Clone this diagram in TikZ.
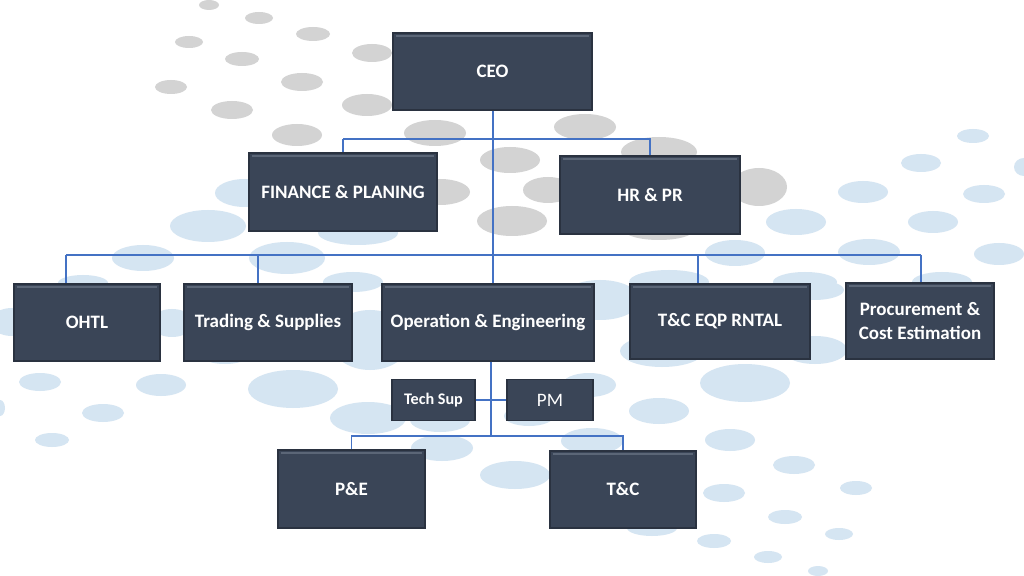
\documentclass[tikz,border=0pt]{standalone}
\usepackage{fontspec}
\setmainfont{Carlito}
\definecolor{boxfill}{HTML}{3A4557}
\definecolor{boxedge}{HTML}{2A3240}
\definecolor{boxhi}{HTML}{5B6677}
\definecolor{conn}{HTML}{4472C4}
\definecolor{dotgray}{HTML}{D3D3D3}
\definecolor{dotblue}{HTML}{D5E5F2}
\tikzset{
  orgbox/.style={draw=boxedge, line width=0.8pt, fill=boxfill, text=white,
    font=\fontsize{13.5}{16.4}\selectfont\bfseries, align=center, inner sep=0pt,
    path picture={\fill[boxhi] ([yshift=-1.2pt,xshift=2pt]path picture bounding box.north west) rectangle ([yshift=-3pt,xshift=-2pt]path picture bounding box.north east);}},
  link/.style={draw=conn, line width=1.3pt},
  gdot/.style={fill=dotgray},
  bdot/.style={fill=dotblue}
}
\begin{document}
\begin{tikzpicture}[x=0.025cm, y=-0.025cm]
\useasboundingbox (0,0) rectangle (1024,576);
\fill[white] (0,0) rectangle (1024,576);
% gray dots
\foreach \cx/\cy/\rx/\ry in {209/5/10/5, 259/18/14/6, 313/34/17/7, 189/42/14/6, 242/59/17/7, 372/53/20/9,
  171/87/16/7, 302/82/21/9, 232/110/21/9, 367/105/25/11, 297/135/25/11, 435/133/31/13,
  440/192/30/13, 510/160/30/13, 512/221/35/15, 585/127/31/13, 659/152/38/15, 759/187/28/19,
  548/190/25/13, 659/230/35/10}
  \fill[gdot] (\cx,\cy) ellipse [x radius=\rx, y radius=\ry];
% blue dots
\foreach \cx/\cy/\rx/\ry in {245/193/30/14, 208/226/38/16, 358/233/40/12, 143/258/31/13, 287/258/38/16,
  83/283/25/8, 353/282/30/10, 973/136/16/7, 921/163/20/9, 1024/167/10/9, 863/192/25/11, 984/194/21/9,
  796/222/30/13, 933/222/25/11, 735/253/30/13, 869/252/31/13, 999/254/25/11, 669/282/40/12,
  805/282/32/10, 942/282/30/10, 12/322/22/14, 172/323/22/14, 40/382/21/9, 161/385/25/11,
  103/413/21/9, 52/440/17/7, 0/408/5/8, 293/389/45/19, 368/418/38/16, 442/448/31/13,
  515/475/35/14, 370/340/40/30, 225/350/30/14, 589/385/27/12, 745/383/45/19, 659/411/30/13,
  730/440/25/11, 794/465/21/9, 856/488/16/7, 724/493/21/9, 785/517/17/7, 839/534/14/6,
  714/541/17/7, 768/557/14/6, 818/571/10/5, 592/441/31/13, 662/351/42/16, 815/350/32/14,
  814/290/30/10, 652/528/25/8, 529/416/25/10, 440/420/30/12, 600/300/40/20, 530/300/40/16}
  \fill[bdot] (\cx,\cy) ellipse [x radius=\rx, y radius=\ry];
% boxes
\node[orgbox, minimum width=199*0.025cm, minimum height=77*0.025cm] (ceo) at (492.5,71.5) {CEO};
\node[orgbox, minimum width=188*0.025cm, minimum height=78*0.025cm] (fin) at (343,192) {FINANCE \& PLANING};
\node[orgbox, minimum width=180*0.025cm, minimum height=78*0.025cm] (hr) at (650,195) {HR \& PR};
\node[orgbox, minimum width=146*0.025cm, minimum height=77*0.025cm] (ohtl) at (87,322.5) {OHTL};
\node[orgbox, minimum width=168*0.025cm, minimum height=77*0.025cm] (trad) at (268,322.5) {Trading \& Supplies};
\node[orgbox, minimum width=212*0.025cm, minimum height=77*0.025cm] (ops) at (488,322.5) {Operation \& Engineering};
\node[orgbox, minimum width=180*0.025cm, minimum height=75*0.025cm] (tce) at (720,321.5) {T\&C EQP RNTAL};
\node[orgbox, minimum width=148*0.025cm, minimum height=76*0.025cm] (proc) at (920,321) {Procurement \&\\Cost Estimation};
\node[orgbox, minimum width=83*0.025cm, minimum height=41*0.025cm, font=\fontsize{11.5}{14}\selectfont\bfseries, path picture={}] (tech) at (433.5,400) {Tech Sup};
\node[orgbox, minimum width=86*0.025cm, minimum height=41*0.025cm, font=\fontsize{13.5}{16}\selectfont, path picture={}] (pm) at (550,400) {PM};
\node[orgbox, minimum width=147*0.025cm, minimum height=78*0.025cm] (pe) at (351.5,489) {P\&E};
\node[orgbox, minimum width=146*0.025cm, minimum height=77*0.025cm] (tc) at (623,489.5) {T\&C};
% connectors
\coordinate (b1) at (493,139);
\coordinate (b2) at (493,255);
\coordinate (b2a) at (66,255);
\coordinate (b2b) at (258,255);
\coordinate (b2c) at (698,255);
\coordinate (b2d) at (921,255);
\coordinate (b3) at (491,436);
\draw[link] (ceo.south -| b1) -- (b1 |- ops.north);
\draw[link] (b1 -| fin.north) -- (fin.north);
\draw[link] (b1 -| fin.north) -- (b1 -| hr.north) -- (hr.north);
\draw[link] (b2a) -- (b2d);
\draw[link] (b2a) -- (b2a |- ohtl.north);
\draw[link] (b2b) -- (b2b |- trad.north);
\draw[link] (b2c) -- (b2c |- tce.north);
\draw[link] (b2d) -- (b2d |- proc.north);
\draw[link] (b3 |- ops.south) -- (b3);
\draw[link] (pe.north) |- (b3) -| (tc.north);
\draw[link] (tech.east) -- (pm.west);
\end{tikzpicture}
\end{document}
